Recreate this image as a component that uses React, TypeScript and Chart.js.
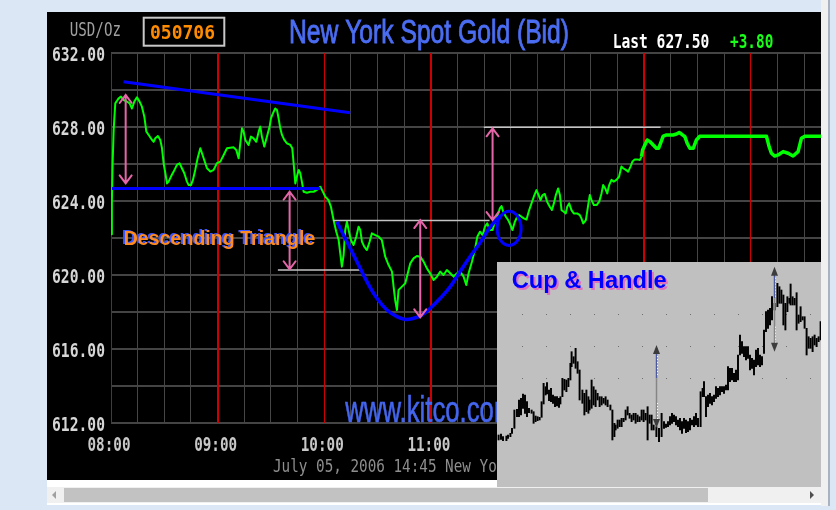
import React, { useEffect, useRef } from "react";
import { Chart, registerables } from "chart.js";
Chart.register(...registerables);

// ---------- main chart: New York spot gold, minutes after 08:00, USD/oz ----------
const priceMinutes = [
  0, 0.5, 0.9, 1.5, 2.4, 4.3, 5.6, 7.1, 9.0, 10.5, 11.8, 13.1, 14.6, 16.1, 17.4, 18.75, 19.9, 21.2, 23.1, 24.0,
  24.9, 26.4, 27.75, 28.7, 29.6, 30.6, 31.5, 32.4, 33.75, 35.25, 37.1, 38.6, 39.9, 41.25, 42.75, 43.7, 45.0, 46.1,
  47.4, 48.75, 50.25, 51.2, 52.5, 54.0, 55.9, 57.75, 59.6, 61.5, 63.4, 65.25, 69.0, 70.5, 71.8, 72.75, 73.7, 74.6,
  75.6, 77.4, 78.75, 80.25, 81.75, 83.1, 84.0, 84.9, 86.25, 87.75, 89.25, 90.0, 91.1, 92.4, 93.4, 94.3, 95.25, 96.2,
  97.5, 99.0, 100.9, 102.0, 102.75, 103.7, 104.6, 105.6, 106.5, 107.4, 108.4, 110.25, 112.1, 114.0, 115.9, 117.75,
  118.7, 120.6, 122.4, 123.75, 125.25, 126.75, 128.1, 129.0, 129.9, 130.9, 131.8, 132.75, 133.7, 135.0, 136.5, 138.0,
  139.3, 140.25, 141.2, 142.5, 144.0, 145.5, 146.8, 148.7, 150.6, 152.4, 154.3, 156.2, 158.1, 159.0, 159.9, 160.9,
  161.8, 163.7, 165.6, 166.5, 168.4, 170.25, 172.1, 174.0, 175.9, 177.75, 179.6, 181.5, 183.4, 185.25, 187.1, 189.0,
  190.9, 192.75, 194.6, 196.5, 198.4, 199.9, 201.2, 203.1, 204.75, 206.1, 207.6, 209.1, 210.4, 211.7, 213.2, 214.7,
  216.0, 217.3, 218.8, 219.75, 220.7, 222.2, 223.5, 224.8, 225.9, 227.25, 228.6, 229.7, 231.0, 232.3, 233.8, 235.3,
  236.6, 237.9, 239.4, 240.6, 241.7, 242.8, 244.1, 245.4, 246.9, 248.1, 249.2, 250.3, 251.6, 252.6, 253.5, 254.8,
  255.9, 256.7, 257.8, 259.1, 260.4, 262.3, 263.8, 264.7, 265.7, 267.2, 268.5, 269.4, 270.4, 271.7, 273.2, 274.7,
  276.0, 276.9, 278.1, 279.2, 280.3, 281.6, 282.9, 284.4, 285.9, 287.2, 288.2, 289.7, 291.0, 292.3, 293.4, 294.75,
  296.1, 297.6, 298.5, 299.1, 300.4, 301.7, 303.2, 305.1, 306.9, 308.1, 309.2, 310.7, 312.6, 316.3, 318.2, 319.7,
  321.0, 322.9, 324.2, 325.7, 327.6, 329.4, 331.3, 368.8, 370.3, 371.6, 373.5, 375.4, 378.2, 381.0, 383.8, 386.6,
  388.5, 390.4, 399.5,
];
const priceValues = [
  622.2, 624.0, 626.0, 627.84, 629.28, 629.55, 629.64, 629.46, 629.37, 629.28, 629.0, 629.37, 629.6, 629.37, 629.1, 628.56, 627.75, 627.57, 627.3, 627.2,
  627.39, 627.51, 627.3, 626.85, 626.04, 625.5, 624.95, 625.05, 625.32, 625.59, 625.95, 626.04, 625.77, 625.5, 625.05, 624.86, 624.86, 625.14,
  625.68, 626.31, 626.85, 626.58, 626.2, 625.77, 625.59, 625.68, 626.04, 626.13, 626.49, 626.85, 626.9, 626.76, 626.31, 627.12, 627.93, 627.75,
  627.3, 627.03, 627.48, 627.39, 627.2, 627.75, 628.02, 627.48, 626.94, 627.48, 628.02, 628.47, 628.74, 629.0, 628.92, 628.47, 627.93, 627.57,
  627.3, 627.12, 627.03, 626.85, 626.04, 624.95, 625.32, 625.68, 625.5, 625.05, 624.5, 624.45, 624.5, 624.5, 624.6, 624.77,
  624.6, 624.23, 624.05, 623.69, 622.97, 622.34, 621.89, 621.17, 620.45, 621.08, 622.43, 622.88, 622.43, 621.89, 621.62, 622.07,
  622.61, 622.43, 621.8, 621.53, 621.35, 621.8, 622.25, 622.16, 622.07, 621.89, 620.99, 620.54, 620.18, 619.37, 618.65, 618.11,
  619.19, 619.37, 619.55, 619.91, 620.63, 620.9, 621.03, 620.99, 620.72, 620.36, 620.09, 619.73, 619.91, 620.18, 620.0, 620.27,
  620.09, 619.91, 620.09, 620.18, 619.91, 619.46, 620.09, 620.72, 621.35, 622.07, 622.34, 622.16, 622.61, 622.79, 622.43, 622.43,
  622.88, 623.15, 623.6, 623.73, 623.42, 623.15, 622.97, 622.7, 622.43, 622.88, 623.15, 623.24, 623.15, 623.06, 623.0, 623.51,
  623.87, 624.23, 624.59, 624.32, 624.05, 624.32, 624.38, 623.96, 623.69, 623.51, 623.87, 624.32, 624.68, 624.32, 623.51, 623.42,
  623.33, 623.69, 623.87, 623.51, 623.33, 623.33, 623.24, 623.06, 622.79, 622.97, 623.78, 624.32, 624.05, 623.78, 623.78, 623.96,
  624.41, 624.86, 624.68, 624.41, 624.86, 625.14, 625.05, 625.14, 625.32, 625.86, 625.77, 625.68, 625.59, 625.86, 626.13, 626.25,
  626.25, 626.22, 626.4, 626.76, 627.03, 627.3, 627.21, 627.03, 626.85, 626.85, 627.12, 627.51, 627.57, 627.57, 627.62, 627.7,
  627.62, 627.48, 627.12, 626.85, 626.85, 627.3, 627.5, 627.5, 626.94, 626.58, 626.43, 626.49, 626.67, 626.58, 626.43, 626.67,
  627.39, 627.5, 627.5,
];

const xMaxMinutes = 399.5;
const gridStepMinutes = 15;
const yMin = 612;
const yMax = 632;
const yLabelValues = [632, 628, 624, 620, 616, 612];
const hourMinutes = [0, 60, 120, 180, 240, 300, 360];
const hourLabels = ["08:00", "09:00", "10:00", "11:00", "12:00", "13:00", "14:00"];
const thickHourMinutes = [60, 180, 300];

const titleText = "New York Spot Gold (Bid)";
const unitText = "USD/Oz";
const dateCode = "050706";
const lastText = "Last 627.50";
const changeText = "+3.80";
const footerText = "July 05, 2006 14:45 New York Time";
const patternText = "Descending Triangle";
const siteText = "www.kitco.com";

// annotation drawings (minutes, USD)
const resistanceMinutes = [7.1, 134.6];
const resistanceValues = [630.45, 628.77];
const supportMinutes = [0.6, 117.75];
const supportValues = [624.68, 624.68];
const cupMinutes = [127.1, 132.75, 138.4, 144.0, 149.6, 155.25, 160.9, 165.6, 170.25, 175.0, 179.6, 185.25, 190.9, 196.5, 202.1, 207.75, 213.4, 219.0];
const cupValues = [622.88, 621.8, 620.72, 619.64, 618.74, 618.11, 617.75, 617.6, 617.66, 617.84, 618.2, 618.74, 619.37, 620.2, 621.0, 621.75, 622.6, 623.2];
const refLineStart = [93.9, 124.9, 209.8];
const refLineEnd = [140.25, 213.0, 309.2];
const refLineValue = [620.27, 622.95, 627.98];
const arrowMinutes = [8.25, 100.5, 174.0, 214.7];
const arrowTop = [629.73, 624.5, 622.97, 627.93];
const arrowBottom = [624.95, 620.31, 617.71, 622.97];
const handleCenter = [224.0, 622.52];
const handleRadius = [6.75, 0.92];

// ---------- inset: cup & handle bar chart (bar index, price points) ----------
const insetDay = [
  0.8, 2.0, 3.0, 4.7, 5.5, 6.7, 7.5, 8.7, 10, 11, 12, 13, 14, 15, 16, 17.3, 18.3, 19.3, 20.3, 21.3, 22.3, 23.3, 24.3, 25,
  26, 27, 28, 29, 30, 31, 31.7, 32.7, 33.7, 34.7, 35.7, 36.7, 37.3, 38.3, 39.3, 40.3, 41.3, 42.7, 43.7, 44.7, 45.7, 46.3,
  47.3, 48.3, 49.3, 50.3, 51.3, 52.3, 53.3, 54.3, 55.3, 56.7, 57.7, 58.7, 59.3, 60.3, 61.3, 62.3, 63.3, 64.3, 65.3, 66.3,
  67.3, 68.3, 69.3, 70.3, 71.3, 72.3, 73.3, 74.3, 75.3, 76.3, 77.3, 78.3, 79.7, 81, 82.3, 83.5, 84.5, 85.5, 86.5, 87.5,
  88.5, 89.5, 90.5, 91.5, 92.5, 93.5, 94.5, 95.5, 96.5, 97.5, 98.5, 99.5, 100.5, 101.8, 102.8, 103.5, 104.5, 105.5, 106.5,
  107.5, 108.5, 109.5, 110.5, 111.5, 112.5, 113.5, 114.5, 115.5, 116.5, 117.5, 118.5, 119.5, 120.5, 121.5, 122.5, 123.5,
  124.5, 125.5, 126.5, 127.5, 128.5, 129.5, 130.5, 131.5, 132.5, 133.5, 134.5, 135.5, 136.5, 137.5, 138.8, 140.2, 141.2,
  142.2, 143.2, 144.2, 145.2, 146.2, 146.8, 147.8, 148.8, 149.8, 150.8, 151.8, 152.8, 153.8, 154.8, 155.8, 156.8, 157.8,
  158.8, 159.8, 160.8, 161.8,
];
const insetLow = [
  47, 47.7, 46.3, 46.3, 48.7, 50.3, 53.7, 58.7, 70.3, 70.3, 72, 78.7, 73.7, 70.3, 74.3, 73.7, 63.7, 65.3, 66.3, 67, 69.7, 83, 92, 93,
  86.3, 85.3, 83.7, 80.3, 81, 79.7, 83, 90.3, 97, 95.3, 100.3, 107, 120.3, 123.7, 118.7, 113.7, 87, 83.7, 72, 75.3, 73.7, 77,
  78.7, 82, 80.3, 87, 80.3, 82, 83.7, 82, 80.3, 77, 47, 50.3, 57, 58.7, 60.3, 60.3, 65.3, 67, 72, 68.7,
  65.3, 67, 63.7, 65.3, 65.3, 67, 65.3, 67, 47, 63.7, 57, 57, 50.3, 45.3, 50.3, 58.7, 59.7, 60.3, 62, 63.7,
  65.3, 62, 60.3, 57, 53.7, 58.7, 54.3, 55.3, 57, 62, 60.3, 62, 60.3, 60.3, 90.3, 90.3, 70.3, 80.3, 83.7,
  82, 85.3, 88.7, 90.3, 92, 95.3, 93.7, 97, 97, 105.3, 107, 105.3, 105.3, 107, 132, 133.7, 130.3,
  127, 128.7, 117, 118.7, 112, 120.3, 122, 120.3, 122, 133.7, 155.3, 158.7, 162, 167, 177, 180.3, 183.7,
  183.7, 162, 157, 175.3, 183.7, 182, 182, 182, 157, 163.7, 165.3, 167, 158.7, 132, 138.7, 138.7, 135.3,
  142, 140.3, 145.3, 147,
];
const insetHigh = [
  52, 53, 50.3, 51, 52, 53.7, 58.7, 77, 77.7, 87, 88.7, 93, 92, 85.3, 78.7, 77, 75.3, 71, 70.3, 69.7, 85.3, 103.7, 100.3, 104.3,
  97, 98.7, 92, 90.3, 90.3, 88.7, 90.3, 108.7, 107.7, 107, 108.7, 123.7, 135.3, 130.3, 138.7, 125.3, 117, 97, 93.7, 97, 90.3, 87,
  107, 100.3, 97, 93.7, 90.3, 90.3, 88.7, 90.3, 87, 82, 77, 63.7, 62, 67, 67, 68.7, 68.7, 77, 80.3, 73.7,
  72, 73.7, 73.7, 72, 70.3, 77, 77, 73.7, 80.3, 72, 72, 62, 60.3, 58.7, 73.7, 65.3, 63, 65.3, 70.3, 73.7,
  72, 70.3, 67, 68.7, 65.3, 68.7, 67, 65.3, 68.7, 67, 70.3, 73.7, 68.7, 95.3, 98.7, 105.3, 90.3, 92, 93.7,
  90.3, 92, 100.3, 98.7, 100.3, 100.3, 100.3, 102, 120.3, 118.7, 118.7, 113.7, 117, 132, 152, 145.3, 140.3,
  140.3, 140.3, 132, 128.7, 127, 137, 138.7, 132, 130.3, 157, 175.3, 177, 178.7, 190.3, 183.7, 203.7, 200.3,
  197, 192, 183.7, 190.3, 188.7, 203, 190.3, 188.7, 194.3, 172, 180.3, 170.3, 170.3, 158.7, 150.3, 148.7, 150.3,
  152, 148.7, 150.3, 165.3,
];
const insetDayMax = 162;
const insetPriceMax = 225;
const insetGridLevels = [172.7, 140.7, 108.7];
const insetDotFirstDay = 12.3;
const insetDotStepDays = 12;
const insetArrowDay = [79.5, 138.7];
const insetArrowTop = [142, 220.3];
const insetArrowMid = [108.7, 188.7];
const insetArrowBottom = [59, 135.3];
const insetTitle = "Cup & Handle";

const MONO = '"DejaVu Sans Mono", "Liberation Mono", monospace';
const SANS = '"Liberation Sans", Arial, sans-serif';
const NARROW = '"Liberation Sans Narrow", "Liberation Sans", Arial, sans-serif';

function fitText(
  ctx: CanvasRenderingContext2D,
  text: string,
  x: number,
  baseline: number,
  width: number,
  font: string,
  color: string,
  align: "left" | "center" | "right" = "left",
  strokeW = 0
) {
  ctx.save();
  ctx.font = font;
  const w = ctx.measureText(text).width || 1;
  const s = width / w;
  let left = x;
  if (align === "center") left = x - width / 2;
  else if (align === "right") left = x - width;
  ctx.translate(left, baseline);
  ctx.scale(s, 1);
  ctx.fillStyle = color;
  ctx.textAlign = "left";
  ctx.textBaseline = "alphabetic";
  ctx.fillText(text, 0, 0);
  if (strokeW > 0) {
    ctx.strokeStyle = color;
    ctx.lineWidth = strokeW;
    ctx.strokeText(text, 0, 0);
  }
  ctx.restore();
}

const pts = (xs: number[], ys: number[]) => xs.map((x, i) => ({ x, y: ys[i] }));
const isMult = (v: number, step: number) => Math.abs(v - Math.round(v / step) * step) < 1e-6;

const mainDecor = {
  id: "mainDecor",
  beforeDatasetsDraw(chart: any) {
    const { ctx, chartArea } = chart;
    const xs = chart.scales.x;
    ctx.save();
    for (let m = 0; m <= xMaxMinutes; m += gridStepMinutes) {
      const px = xs.getPixelForValue(m);
      const hour = isMult(m, 60);
      const thick = thickHourMinutes.some((h) => Math.abs(h - m) < 1e-6);
      const w = thick ? 2 : 1;
      const cx = w === 1 ? Math.floor(px) + 0.5 : Math.round(px);
      ctx.strokeStyle = hour ? "#cc0000" : "#464646";
      ctx.lineWidth = w;
      ctx.beginPath();
      ctx.moveTo(cx, chartArea.top);
      ctx.lineTo(cx, chartArea.bottom);
      ctx.stroke();
    }
    ctx.restore();
  },
  afterDatasetsDraw(chart: any) {
    const { ctx } = chart;
    const xs = chart.scales.x;
    const ys = chart.scales.y;
    ctx.save();
    // pink measuring arrows
    ctx.strokeStyle = "#e466a8";
    ctx.lineWidth = 2;
    ctx.lineCap = "round";
    arrowMinutes.forEach((m, i) => {
      const px = xs.getPixelForValue(m);
      const pt = ys.getPixelForValue(arrowTop[i]);
      const pb = ys.getPixelForValue(arrowBottom[i]);
      ctx.beginPath();
      ctx.moveTo(px, pt);
      ctx.lineTo(px, pb);
      ctx.moveTo(px - 6, pt + 8);
      ctx.lineTo(px, pt);
      ctx.lineTo(px + 6, pt + 8);
      ctx.moveTo(px - 6, pb - 8);
      ctx.lineTo(px, pb);
      ctx.lineTo(px + 6, pb - 8);
      ctx.stroke();
    });
    // handle ellipse
    const cx = xs.getPixelForValue(handleCenter[0]);
    const cy = ys.getPixelForValue(handleCenter[1]);
    const rx = xs.getPixelForValue(handleCenter[0] + handleRadius[0]) - cx;
    const ry = cy - ys.getPixelForValue(handleCenter[1] + handleRadius[1]);
    ctx.strokeStyle = "#0000ff";
    ctx.lineWidth = 3;
    ctx.beginPath();
    ctx.ellipse(cx, cy, rx, ry, 0, 0, Math.PI * 2);
    ctx.stroke();
    ctx.restore();

    // texts in the plot
    fitText(ctx, patternText, 74.7, 232, 191.6, `bold 20px ${SANS}`, "#3a55ff");
    fitText(ctx, patternText, 76.7, 233, 191.6, `bold 20px ${SANS}`, "#ff8a1e");
    fitText(ctx, siteText, 298.3, 409.7, 170, `37px ${SANS}`, "#4466ee", "left", 0.6);
  },
  afterDraw(chart: any) {
    const { ctx } = chart;
    const xs = chart.scales.x;
    const ys = chart.scales.y;
    yLabelValues.forEach((v) => {
      fitText(ctx, v.toFixed(2), 58, ys.getPixelForValue(v) + 8, 53, `bold 20px ${MONO}`, "#d6d6d6", "right");
    });
    hourMinutes.forEach((m, i) => {
      fitText(ctx, hourLabels[i], xs.getPixelForValue(m) - 2, 439, 43, `bold 19px ${MONO}`, "#c8c8c8", "center");
    });
    fitText(ctx, footerText, 226, 459.7, 284, `17px ${MONO}`, "#8e8e8e");
    fitText(ctx, unitText, 22.7, 24, 51.3, `20px ${MONO}`, "#a0a0a0");
    ctx.save();
    ctx.strokeStyle = "#c8c8c8";
    ctx.lineWidth = 2;
    ctx.strokeRect(96.7, 5.7, 80.6, 28);
    ctx.restore();
    fitText(ctx, dateCode, 103, 27.3, 65, `bold 19px ${MONO}`, "#ff8c00");
    fitText(ctx, titleText, 242, 30.7, 280, `34px ${NARROW}`, "#4b6df2", "left", 0.9);
    fitText(ctx, lastText, 565.7, 36.3, 96.6, `bold 20px ${MONO}`, "#ffffff");
    fitText(ctx, changeText, 683, 36.3, 43.3, `bold 20px ${MONO}`, "#19ff19");
  },
};

const insetDecor = {
  id: "insetDecor",
  beforeDatasetsDraw(chart: any) {
    const { ctx } = chart;
    const xs = chart.scales.x;
    const ys = chart.scales.y;
    ctx.save();
    ctx.fillStyle = "#707070";
    insetGridLevels.forEach((lvl) => {
      const py = Math.round(ys.getPixelForValue(lvl));
      for (let d = insetDotFirstDay; d <= insetDayMax; d += insetDotStepDays) {
        ctx.fillRect(Math.round(xs.getPixelForValue(d)), py, 1, 1);
      }
    });
    ctx.restore();
  },
  afterDatasetsDraw(chart: any) {
    const { ctx } = chart;
    const xs = chart.scales.x;
    const ys = chart.scales.y;
    ctx.save();
    insetArrowDay.forEach((d, i) => {
      const px = Math.round(xs.getPixelForValue(d)) + 0.5;
      const pt = ys.getPixelForValue(insetArrowTop[i]);
      const pm = ys.getPixelForValue(insetArrowMid[i]);
      const pb = ys.getPixelForValue(insetArrowBottom[i]);
      ctx.lineWidth = 1.5;
      ctx.strokeStyle = "#4a5aa0";
      ctx.beginPath();
      ctx.moveTo(px, pt + 6);
      ctx.lineTo(px, pm);
      ctx.stroke();
      ctx.strokeStyle = "#858585";
      ctx.beginPath();
      ctx.moveTo(px, pm);
      ctx.lineTo(px, pb - 6);
      ctx.stroke();
      ctx.strokeStyle = "#ffffff";
      ctx.lineWidth = 1;
      ctx.setLineDash([1, 2]);
      ctx.beginPath();
      ctx.moveTo(px + 1, pt + 8);
      ctx.lineTo(px + 1, pt + 30);
      ctx.moveTo(px + 1, pb - 25);
      ctx.lineTo(px + 1, pb - 8);
      ctx.stroke();
      ctx.setLineDash([]);
      ctx.fillStyle = "#3c3c3c";
      ctx.beginPath();
      ctx.moveTo(px, pt);
      ctx.lineTo(px - 3.5, pt + 9);
      ctx.lineTo(px + 3.5, pt + 9);
      ctx.closePath();
      ctx.fill();
      ctx.beginPath();
      ctx.moveTo(px, pb);
      ctx.lineTo(px - 3.5, pb - 9);
      ctx.lineTo(px + 3.5, pb - 9);
      ctx.closePath();
      ctx.fill();
    });
    ctx.restore();
    fitText(ctx, insetTitle, 16.7, 28.3, 155, `bold 24px ${SANS}`, "#e070c0");
    fitText(ctx, insetTitle, 14.7, 26.3, 155, `bold 24px ${SANS}`, "#0000ff");
  },
};

export default function App() {
  const mainRef = useRef<HTMLCanvasElement>(null);
  const insetRef = useRef<HTMLCanvasElement>(null);

  useEffect(() => {
    const lineBase = { type: "line", pointRadius: 0, fill: false, tension: 0 };
    const refSets = refLineStart.map((s, i) => ({
      ...lineBase,
      label: `ref${i}`,
      data: pts([s, refLineEnd[i]], [refLineValue[i], refLineValue[i]]),
      borderColor: "#c4c4c4",
      borderWidth: 1.5,
    }));
    const main = new Chart(mainRef.current as HTMLCanvasElement, {
      type: "line",
      data: {
        datasets: [
          { ...lineBase, label: "resistance", data: pts(resistanceMinutes, resistanceValues), borderColor: "#0000ff", borderWidth: 3 },
          { ...lineBase, label: "support", data: pts(supportMinutes, supportValues), borderColor: "#0000ff", borderWidth: 3 },
          { ...lineBase, label: "cup", data: pts(cupMinutes, cupValues), borderColor: "#0000ff", borderWidth: 3.5, tension: 0.4 },
          ...refSets,
          {
            ...lineBase,
            label: "price",
            data: pts(priceMinutes, priceValues),
            borderColor: "#00ff00",
            borderWidth: 2,
            borderJoinStyle: "round",
            segment: { borderWidth: (c: any) => (c.p0.parsed.x >= 298 ? 3.5 : 2) },
          },
        ] as any,
      },
      options: {
        animation: false,
        responsive: false,
        events: [],
        layout: { padding: { top: 41, left: 0, right: 0, bottom: 0 } },
        plugins: { legend: { display: false }, tooltip: { enabled: false }, title: { display: false } },
        scales: {
          x: {
            type: "linear",
            min: 0,
            max: xMaxMinutes,
            ticks: { display: false, stepSize: gridStepMinutes, maxTicksLimit: 100, autoSkip: false },
            border: { display: false },
            grid: { display: false },
            afterFit: (s: any) => {
              s.height = 57;
            },
          },
          y: {
            type: "linear",
            min: yMin,
            max: yMax,
            ticks: { display: false, stepSize: 2 },
            border: { display: false },
            grid: { drawTicks: false, color: "#444444", lineWidth: 2 },
            afterFit: (s: any) => {
              s.width = 64;
            },
          },
        },
      } as any,
      plugins: [mainDecor],
    });

    const inset = new Chart(insetRef.current as HTMLCanvasElement, {
      type: "bar",
      data: {
        datasets: [
          {
            label: "bars",
            data: insetDay.map((d, i) => ({ x: d, y: [insetLow[i], insetHigh[i]] })),
            backgroundColor: "#000000",
            borderWidth: 0,
            barThickness: 1.3,
          },
        ] as any,
      },
      options: {
        animation: false,
        responsive: false,
        events: [],
        layout: { padding: 0 },
        plugins: { legend: { display: false }, tooltip: { enabled: false } },
        scales: {
          x: { type: "linear", min: 0, max: insetDayMax, offset: false, display: false },
          y: { type: "linear", min: 0, max: insetPriceMax, display: false },
        },
      } as any,
      plugins: [insetDecor],
    });

    return () => {
      main.destroy();
      inset.destroy();
    };
  }, []);

  return (
    <div style={{ position: "fixed", left: 0, top: 0, width: 836, height: 510, background: "#dce7f5", overflow: "hidden" }}>
      <div style={{ position: "absolute", left: 47, top: 12, width: 782, height: 493, background: "#ffffff" }} />
      <div style={{ position: "absolute", left: 821, top: 0, width: 7, height: 506, background: "#f0f0f0" }} />
      <div style={{ position: "absolute", left: 828, top: 0, width: 2, height: 506, background: "#a9b2c0" }} />
      <canvas
        ref={mainRef}
        width={774}
        height={468}
        style={{ position: "absolute", left: 47, top: 12, width: 774, height: 468, background: "#000000" }}
      />
      <div style={{ position: "absolute", left: 47, top: 487, width: 774, height: 16, background: "#f0f0f0" }} />
      <div style={{ position: "absolute", left: 64, top: 488, width: 644, height: 14, background: "#c2c2c2" }} />
      <div
        style={{
          position: "absolute",
          left: 52,
          top: 491,
          width: 0,
          height: 0,
          borderTop: "4px solid transparent",
          borderBottom: "4px solid transparent",
          borderRight: "4px solid #a0a0a0",
        }}
      />
      <div
        style={{
          position: "absolute",
          left: 810,
          top: 491,
          width: 0,
          height: 0,
          borderTop: "4px solid transparent",
          borderBottom: "4px solid transparent",
          borderLeft: "4px solid #505050",
        }}
      />
      <canvas
        ref={insetRef}
        width={324}
        height={225}
        style={{ position: "absolute", left: 497, top: 262, width: 324, height: 225, background: "#c0c0c0" }}
      />
    </div>
  );
}
